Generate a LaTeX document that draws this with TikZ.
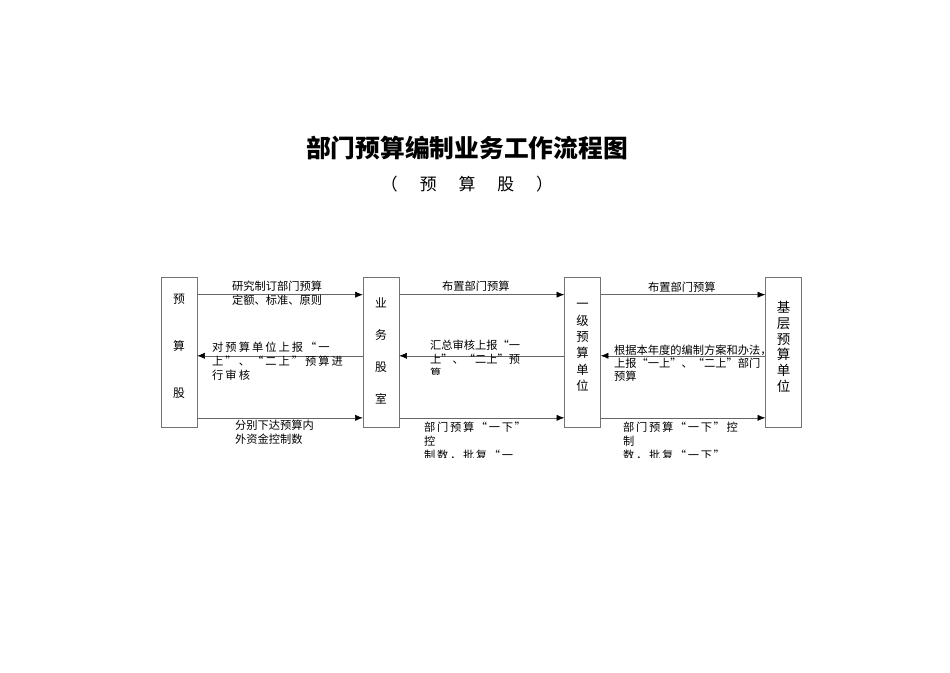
\documentclass[tikz,border=0pt]{standalone}
\usepackage{fontspec}
\newfontfamily\cjk{Noto Sans CJK SC}
\newfontfamily\cjkwide{Noto Sans CJK SC}[LetterSpace=15]
\newfontfamily\cjkwider{Noto Sans CJK SC}[LetterSpace=18]
\usetikzlibrary{arrows.meta}

\tikzset{
  unit/.style={draw=black!55, minimum width=11.25mm, minimum height=46.9mm,
    inner sep=0pt},
  unittext/.style={align=center, inner sep=0pt},
  flow/.style={draw=black!60, line width=0.5pt,
    -{Latex[length=2.4mm,width=1.9mm,color=black]}},
  note/.style={anchor=west, align=left, inner sep=0pt,
    font=\cjk\fontsize{10}{12.4}\selectfont},
  widenote/.style={note, font=\cjkwide\fontsize{10}{12.4}\selectfont},
}

\begin{document}
\begin{tikzpicture}[x=0.3126mm, y=-0.3126mm]
    \useasboundingbox (0,0) rectangle (950,672);

    \node (title) at (467,148) {\cjk\bfseries\fontsize{22}{26}\selectfont 部门预算编制业务工作流程图};
    \node (sub) at (467,184) {\cjk\fontsize{15}{18}\selectfont （\hspace{1.3em}预\hspace{1.3em}算\hspace{1.3em}股\hspace{1.3em}）};

    \node [unit] (ysg) at (179,352) {};
    \node [unit] (ywgs) at (381,352) {};
    \node [unit] (yjdw) at (582.5,352) {};
    \node [unit] (jcdw) at (783.5,352) {};

    \node [unittext, font=\cjk\fontsize{10.5}{41.7}\selectfont] (ysgtext) at ([yshift=1.9mm]ysg.center) {预\\算\\股};
    \node [unittext, font=\cjk\fontsize{10.5}{28.5}\selectfont] (ywgstext) at ([yshift=0.3mm]ywgs.center) {业\\务\\股\\室};
    \node [unittext, font=\cjk\fontsize{11}{14.6}\selectfont] (yjdwtext) at ([yshift=1.4mm]yjdw.center) {一\\级\\预\\算\\单\\位};
    \node [unittext, font=\cjk\fontsize{12}{13.9}\selectfont] (jcdwtext) at ([yshift=1.6mm]jcdw.center) {基\\层\\预\\算\\单\\位};

    \draw [flow] ([yshift=-5.6mm]ysg.north east) -- ([yshift=-5.6mm]ywgs.north west);
    \draw [flow] ([yshift=-24.7mm]ywgs.north west) -- ([yshift=-24.7mm]ysg.north east);
    \draw [flow] ([yshift=-44.1mm]ysg.north east) -- ([yshift=-44.1mm]ywgs.north west);

    \draw [flow] ([yshift=-5.6mm]ywgs.north east) -- ([yshift=-5.6mm]yjdw.north west);
    \draw [flow] ([yshift=-24.7mm]yjdw.north west) -- ([yshift=-24.7mm]ywgs.north east);
    \draw [flow] ([yshift=-44.1mm]ywgs.north east) -- ([yshift=-44.1mm]yjdw.north west);

    \draw [flow] ([yshift=-5.6mm]yjdw.north east) -- ([yshift=-5.6mm]jcdw.north west);
    \draw [flow] ([yshift=-24.7mm]jcdw.north west) -- ([yshift=-24.7mm]yjdw.north east);
    \draw [flow] ([yshift=-44.1mm]yjdw.north east) -- ([yshift=-44.1mm]jcdw.north west);

    \node [note] (t1a) at (232,293) {研究制订部门预算\\定额、标准、原则};
    \node [note, font=\cjkwider\fontsize{10}{12.4}\selectfont] (t1b) at (212,361) {对预算单位上报“一\\上”、“二上”预算进\\行审核};
    \node [note] (t1c) at (235,432) {分别下达预算内\\外资金控制数};

    \node [note] (t2a) at (442,286) {布置部门预算};
    \begin{scope}
      \clip (420,335) rectangle (540,374);
      \node [note] (t2b) at (430,359) {汇总审核上报“一\\上”、“二上”预\\算};
    \end{scope}
    \begin{scope}
      \clip (415,418) rectangle (540,457);
      \node [widenote] (t2c) at (424,441) {部门预算“一下”\\控\\制数，批复“一};
    \end{scope}

    \node [note] (t3a) at (648,287) {布置部门预算};
    \node [note, font=\cjk\fontsize{10}{11.8}\selectfont] (t3b) at (614,363) {根据本年度的编制方案和办法，\\上报“一上”、“二上”部门\\预算};
    \begin{scope}
      \clip (615,418) rectangle (760,457);
      \node [widenote] (t3c) at (623,441) {部门预算“一下”控\\制\\数，批复“一下”};
    \end{scope}
\end{tikzpicture}
\end{document}
